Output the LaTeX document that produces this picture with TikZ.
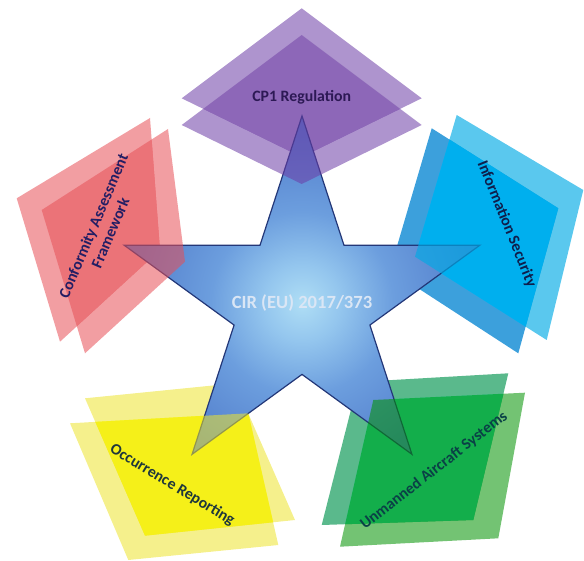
\documentclass[tikz,border=0pt]{standalone}
\usepackage{fontspec}
\setmainfont{Carlito}
% pane colours: rear pane, rear part of the overlap, front pane
\definecolor{cpback}{RGB}{174,148,206}
\definecolor{cpover}{RGB}{182,157,206}
\definecolor{cpfront}{RGB}{108,60,166}
\definecolor{isback}{RGB}{60,160,220}
\definecolor{isover}{RGB}{0,186,255}
\definecolor{isfront}{RGB}{1,170,229}
\definecolor{cfback}{RGB}{242,158,162}
\definecolor{cfover}{RGB}{242,159,162}
\definecolor{cffront}{RGB}{231,79,86}
\definecolor{orback}{RGB}{245,240,140}
\definecolor{orover}{RGB}{255,255,0}
\definecolor{orfront}{RGB}{237,228,46}
\definecolor{uaback}{RGB}{90,185,140}
\definecolor{uaover}{RGB}{44,210,167}
\definecolor{uafront}{RGB}{0,146,0}
% label colours
\definecolor{cptext}{RGB}{45,25,85}
\definecolor{istext}{RGB}{15,30,75}
\definecolor{cftext}{RGB}{35,30,100}
\definecolor{ortext}{RGB}{30,55,60}
\definecolor{uatext}{RGB}{10,65,70}
\definecolor{cirtext}{RGB}{218,230,245}
% star
\definecolor{starline}{RGB}{35,55,120}
\definecolor{glowa}{RGB}{175,222,245}
\definecolor{glowb}{RGB}{148,198,238}
\definecolor{glowc}{RGB}{108,158,222}
\definecolor{glowd}{RGB}{84,128,205}
\definecolor{glowe}{RGB}{62,100,188}
\pgfdeclareradialshading{starglow}{\pgfpoint{0bp}{0bp}}{color(0bp)=(glowa); color(5bp)=(glowb); color(12bp)=(glowc); color(22bp)=(glowd); color(50bp)=(glowe)}
\tikzset{
  lab/.style={font=\fontsize{7.9}{9.2}\selectfont\bfseries, align=center, inner sep=1pt},
  front/.style={fill opacity=0.55},
  rim/.style={draw=starline, line width=0.6pt, line join=miter}
}
% the panes (pixel units, y pointing down)
\newcommand{\cpA}{(301.7,8.3) -- (421.7,98.3) -- (301.7,157) -- (181.7,98.3) -- cycle}
\newcommand{\cpB}{(301.7,35) -- (421.7,125) -- (301.7,184) -- (181.7,125) -- cycle}
\newcommand{\isA}{(431.7,128.3) -- (558.3,208.3) -- (518.3,353.3) -- (390,270) -- cycle}
\newcommand{\isB}{(456.7,115) -- (583.3,190) -- (546.7,340) -- (415,256.7) -- cycle}
\newcommand{\cfA}{(150,118) -- (160,250) -- (60,341.7) -- (16.7,198.3) -- cycle}
\newcommand{\cfB}{(168,129) -- (185,261.7) -- (85,353.3) -- (41.7,210) -- cycle}
\newcommand{\orA}{(85,398.3) -- (235,383.3) -- (295,520) -- (145,535.7) -- cycle}
\newcommand{\orB}{(70,423.3) -- (248.3,413.3) -- (278.3,545) -- (128.3,560) -- cycle}
\newcommand{\uaA}{(358,382) -- (508.3,373.3) -- (473.3,520) -- (321.7,525) -- cycle}
\newcommand{\uaB}{(373.3,400) -- (525,392.7) -- (498.3,538.3) -- (340,546.7) -- cycle}
\newcommand{\starpath}{(-90:187) \foreach \i/\o in {-54/-18, 18/54, 90/126, 162/198, 234/270} { -- (\i:71.4) -- (\o:187) } -- cycle}

\begin{document}
\begin{tikzpicture}[x=0.5pt, y=-0.5pt]
	\useasboundingbox (0,0) rectangle (584,561);
	% rear panes with their overlap, under the star
	\foreach \bk/\fr/\cb/\cx in {\cpA/\cpB/cpback/cpover, \isA/\isB/isback/isover, \cfA/\cfB/cfback/cfover, \orA/\orB/orback/orover, \uaA/\uaB/uaback/uaover} {
		\fill[\cb] \bk;
		\begin{scope}
			\clip \bk;
			\fill[\cx] \fr;
		\end{scope}
	}
	% star
	\begin{scope}[shift={(302,303)}]
		\begin{scope}
			\clip \starpath;
			\shade[shading=starglow] (0,0) circle (190);
		\end{scope}
		\draw[rim] \starpath;
	\end{scope}
	% front panes
	\fill[front, cpfront] \cpB;
	\fill[front, isfront, fill opacity=0.65] \isB;
	\fill[front, cffront] \cfB;
	\fill[front, orfront] \orB;
	\fill[front, uafront] \uaB;
	% labels
	\node[font=\fontsize{9.3}{11}\selectfont\bfseries, text=cirtext] (cir) at (302,303) {CIR (EU) 2017/373};
	\node[lab, text=cptext] (cp1) at (301.7,97.3) {CP1 Regulation};
	\node[lab, text=istext, rotate=-68] (infosec) at (506.7,224) {Information Security};
	\node[lab, text=cftext, rotate=67] (caf) at (101.7,229.5) {Conformity Assessment\\Framework};
	\node[lab, text=ortext, rotate=-31] (occrep) at (172.3,485) {Occurrence Reporting};
	\node[lab, text=uatext, rotate=38] (uas) at (434,470.7) {Unmanned Aircraft Systems};
\end{tikzpicture}
\end{document}
